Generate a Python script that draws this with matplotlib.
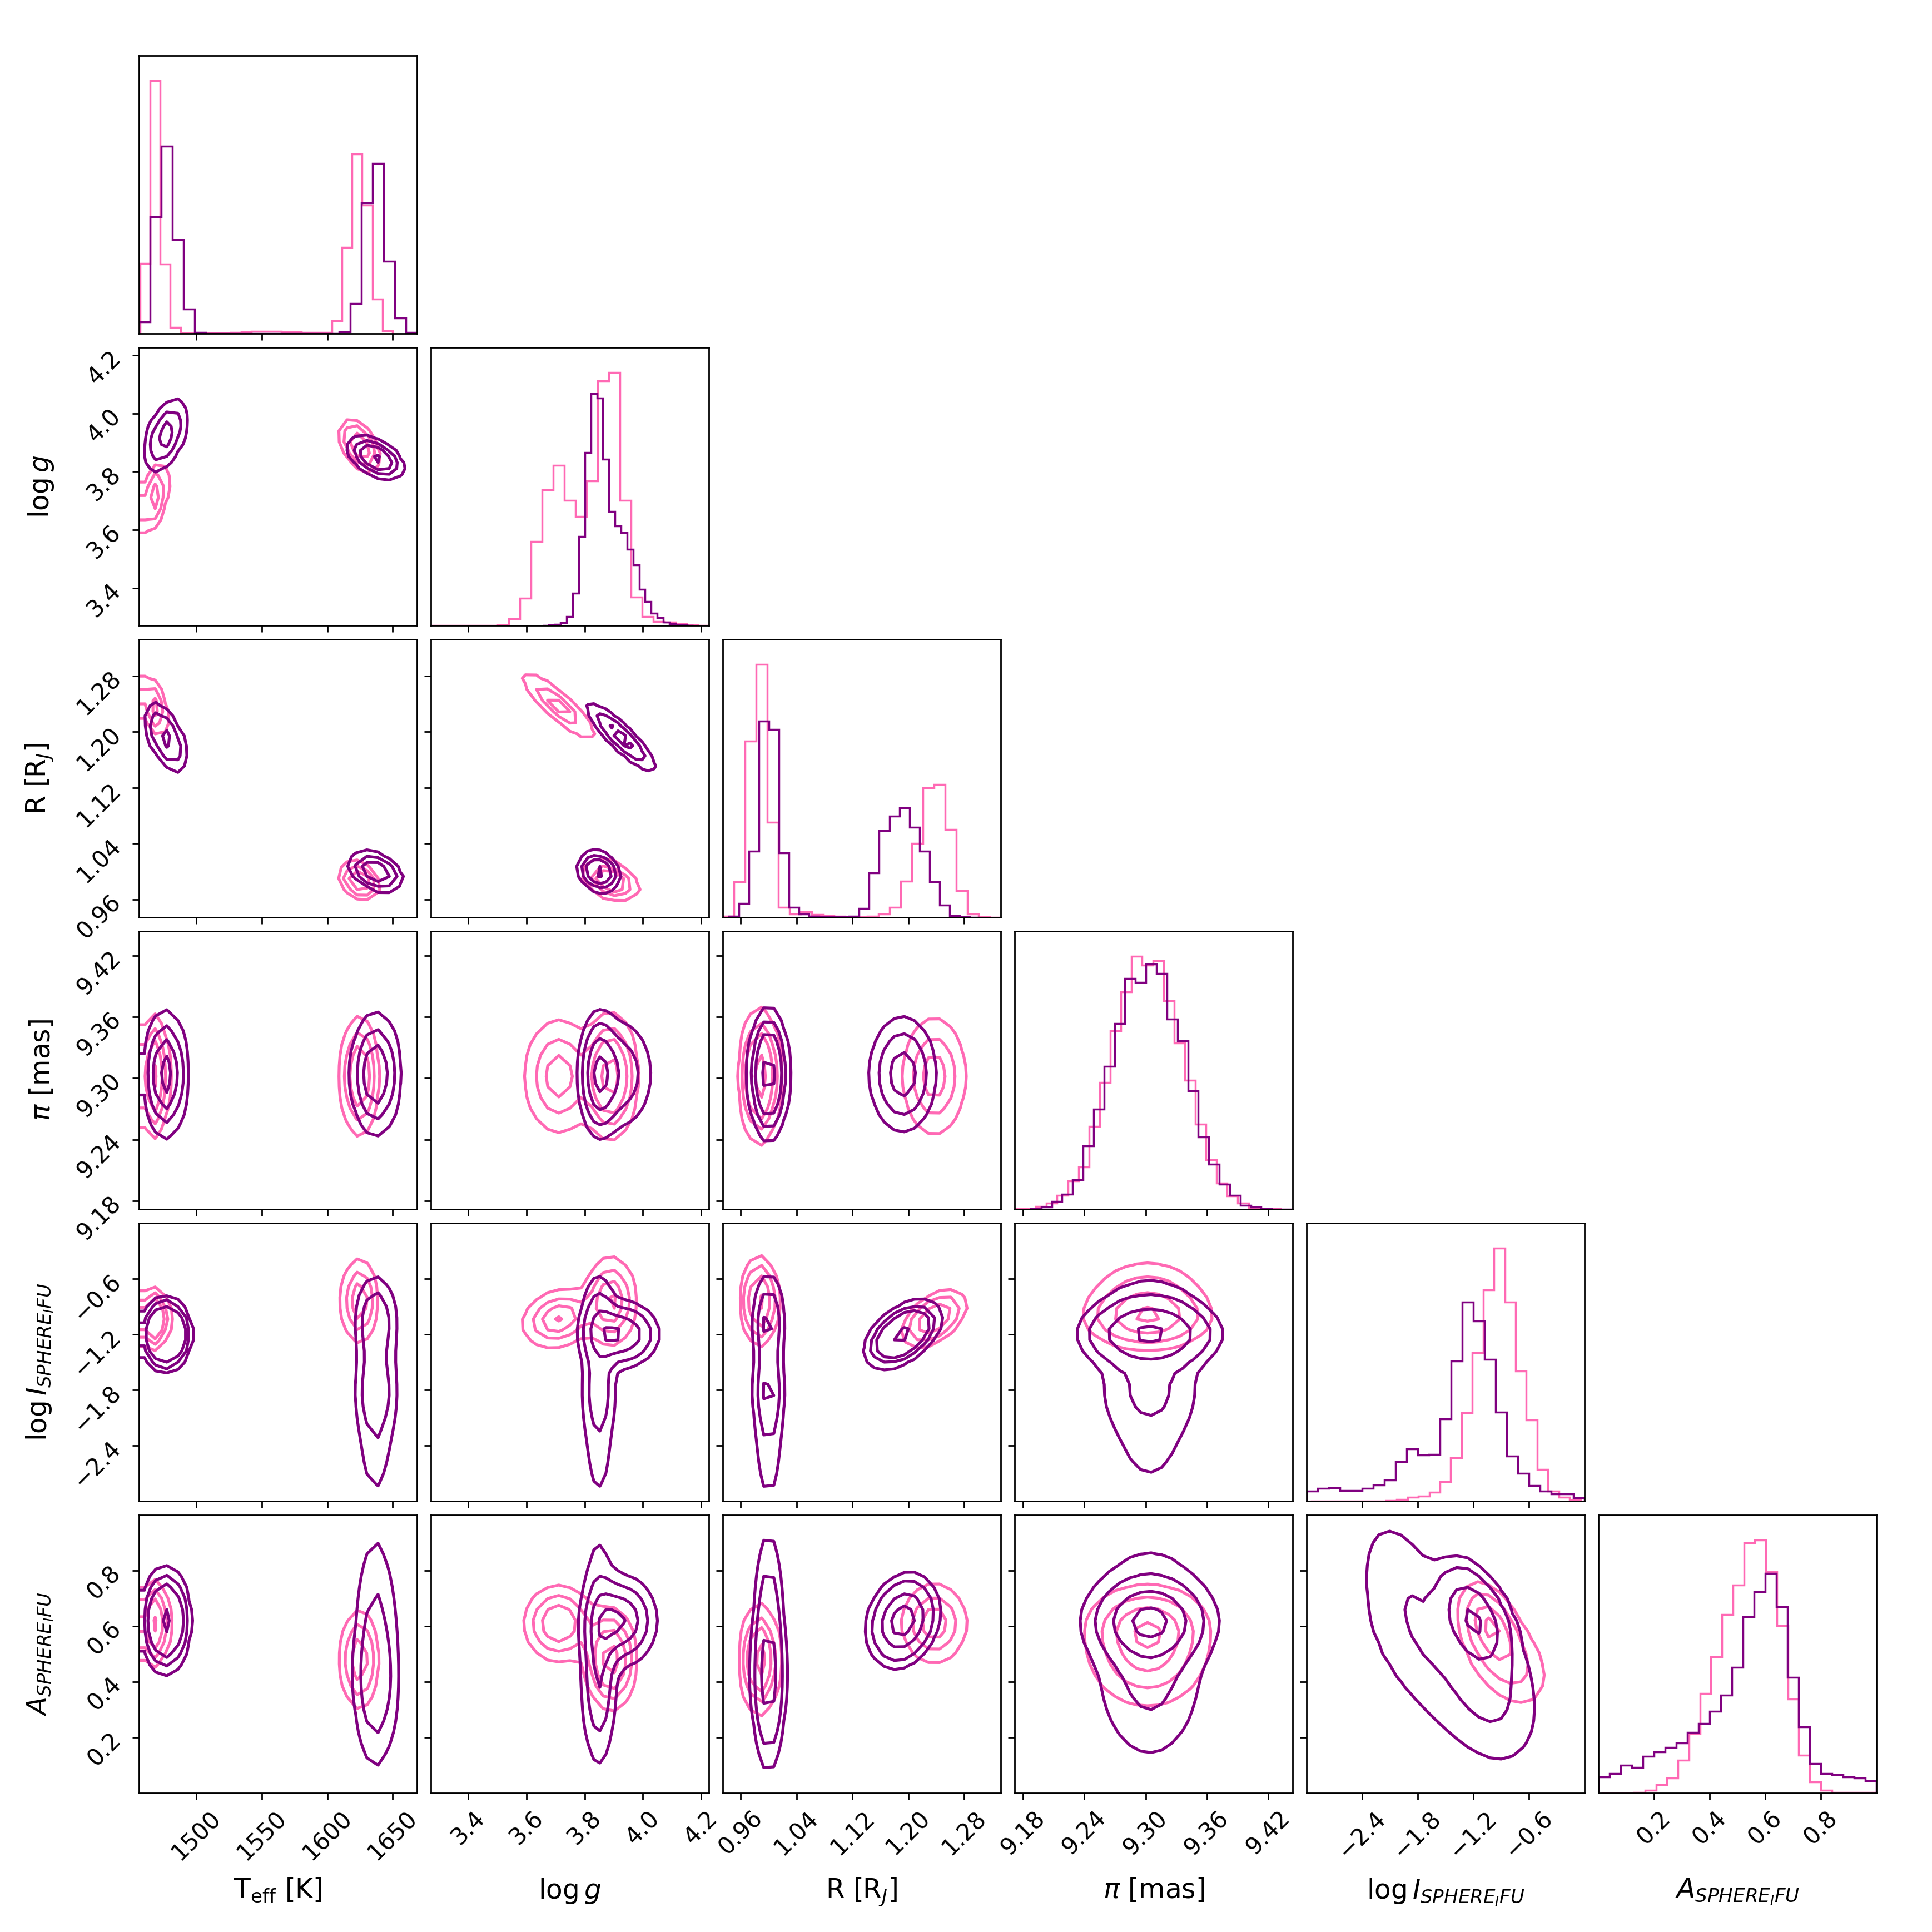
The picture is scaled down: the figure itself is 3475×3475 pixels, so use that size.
from __future__ import annotations

import numpy as np
import matplotlib

matplotlib.use("Agg")
import matplotlib.pyplot as plt


OUTPUT = "out.png"

PINK = "#ff69b4"
PURPLE = "#800080"

LABELS = [
    r"T$_{\mathrm{eff}}$ [K]",
    r"$\log g$",
    r"R [R$_J$]",
    r"$\pi$ [mas]",
    r"$\log I_{SPHERE_IFU}$",
    r"$A_{SPHERE_IFU}$",
]

AXIS_LO = [1456.2, 3.271, 0.9344, 9.1717, -3.0, 0.0]
AXIS_HI = [1668.5, 4.227, 1.3322, 9.444, 0.0, 1.0]

TICKS = [
    [1500, 1550, 1600, 1650],
    [3.4, 3.6, 3.8, 4.0, 4.2],
    [0.96, 1.04, 1.12, 1.20, 1.28],
    [9.18, 9.24, 9.30, 9.36, 9.42],
    [-2.4, -1.8, -1.2, -0.6],
    [0.2, 0.4, 0.6, 0.8],
]
TICK_TEXT = [
    ["1500", "1550", "1600", "1650"],
    ["3.4", "3.6", "3.8", "4.0", "4.2"],
    ["0.96", "1.04", "1.12", "1.20", "1.28"],
    ["9.18", "9.24", "9.30", "9.36", "9.42"],
    ["\u22122.4", "\u22121.8", "\u22121.2", "\u22120.6"],
    ["0.2", "0.4", "0.6", "0.8"],
]

# 1D marginals: 25 bins per sample set, each set over its own range
PINK_HIST_LO = [1457.0, 3.271, 0.9344, 9.1717, -2.96, 0.01]
PINK_HIST_HI = [1649.8, 4.227, 1.3322, 9.432, -0.044, 0.997]
PURPLE_HIST_LO = [1456.2, 3.655, 0.9428, 9.1874, -3.0, 0.0]
PURPLE_HIST_HI = [1668.5, 4.174, 1.302, 9.444, 0.0, 1.0]

PINK_TEFF = [0.252, 0.910, 0.250, 0.023, 0.003, 0.003, 0.003, 0.003, 0.003, 0.004,
             0.006, 0.009, 0.009, 0.009, 0.006, 0.006, 0.005, 0.004, 0.005, 0.046,
             0.311, 0.647, 0.463, 0.124, 0.011]
PINK_LOGG = [0.0, 0.0, 0.0, 0.0, 0.0, 0.0, 0.003, 0.025, 0.098, 0.303,
             0.490, 0.579, 0.452, 0.394, 0.523, 0.884, 0.913, 0.452, 0.102, 0.033,
             0.014, 0.013, 0.006, 0.003, 0.001]
PINK_RAD = [0.003, 0.127, 0.633, 0.909, 0.341, 0.036, 0.012, 0.019, 0.009, 0.006,
            0.003, 0.001, 0.001, 0.003, 0.012, 0.036, 0.130, 0.266, 0.465, 0.477,
            0.315, 0.095, 0.012, 0.001, 0.0]
PINK_PLX = [0.002, 0.002, 0.010, 0.022, 0.050, 0.102, 0.153, 0.298, 0.456, 0.643,
            0.784, 0.911, 0.879, 0.895, 0.751, 0.599, 0.464, 0.306, 0.178, 0.095,
            0.048, 0.022, 0.006, 0.002, 0.003]
PINK_LOGI = [0.001, 0.001, 0.001, 0.001, 0.001, 0.001, 0.001, 0.003, 0.006, 0.014,
             0.019, 0.033, 0.070, 0.157, 0.319, 0.536, 0.763, 0.912, 0.719, 0.469,
             0.293, 0.115, 0.036, 0.015, 0.005]
PINK_AMP = [0.001, 0.001, 0.001, 0.003, 0.010, 0.030, 0.054, 0.118, 0.214, 0.359,
            0.493, 0.645, 0.752, 0.903, 0.913, 0.800, 0.604, 0.339, 0.137, 0.041,
            0.010, 0.003, 0.003, 0.003, 0.003]

PURPLE_TEFF = [0.043, 0.421, 0.675, 0.338, 0.089, 0.004, 0.0, 0.0, 0.0, 0.0,
               0.0, 0.0, 0.0, 0.0, 0.0, 0.0, 0.0, 0.0, 0.007, 0.109,
               0.471, 0.613, 0.261, 0.057, 0.005]
PURPLE_LOGG = [0.001, 0.003, 0.004, 0.010, 0.033, 0.117, 0.321, 0.624, 0.838, 0.821,
               0.600, 0.411, 0.359, 0.335, 0.276, 0.218, 0.131, 0.087, 0.045, 0.028,
               0.013, 0.006, 0.003, 0.002, 0.001]
PURPLE_RAD = [0.003, 0.049, 0.237, 0.705, 0.676, 0.231, 0.035, 0.012, 0.003, 0.001,
              0.001, 0.001, 0.004, 0.032, 0.159, 0.312, 0.364, 0.393, 0.324, 0.237,
              0.127, 0.043, 0.006, 0.001, 0.0]
PURPLE_PLX = [0.002, 0.008, 0.029, 0.055, 0.107, 0.228, 0.361, 0.515, 0.670, 0.831,
              0.818, 0.883, 0.850, 0.686, 0.608, 0.426, 0.260, 0.162, 0.091, 0.050,
              0.015, 0.008, 0.002, 0.001, 0.001]
PURPLE_LOGI = [0.036, 0.046, 0.048, 0.038, 0.038, 0.046, 0.058, 0.077, 0.143, 0.189,
               0.167, 0.169, 0.296, 0.505, 0.719, 0.651, 0.511, 0.321, 0.163, 0.100,
               0.056, 0.036, 0.026, 0.026, 0.013]
PURPLE_AMP = [0.058, 0.070, 0.100, 0.092, 0.132, 0.149, 0.165, 0.180, 0.219, 0.252,
              0.296, 0.354, 0.454, 0.637, 0.728, 0.793, 0.672, 0.418, 0.240, 0.107,
              0.070, 0.067, 0.058, 0.055, 0.045]

PINK_HISTS = [PINK_TEFF, PINK_LOGG, PINK_RAD, PINK_PLX, PINK_LOGI, PINK_AMP]
PURPLE_HISTS = [PURPLE_TEFF, PURPLE_LOGG, PURPLE_RAD, PURPLE_PLX, PURPLE_LOGI, PURPLE_AMP]

# 2D posteriors: blobs (weight, centre, width, tilt)
# parameter order: Teff, logg, R, pi, logI, A
PINK_WEIGHTS = [0.47, 0.53]
PINK_MEANS = [
    [1467.5, 3.71, 1.237, 9.302, -1.03, 0.61],
    [1624.5, 3.89, 0.987, 9.302, -0.84, 0.48],
]
PINK_SIGMAS = [
    [5.5, 0.065, 0.024, 0.031, 0.16, 0.075],
    [7.5, 0.045, 0.013, 0.031, 0.25, 0.095],
]
PINK_CORR = [
    {(0, 1): 0.5, (0, 2): -0.5, (1, 2): -0.9, (2, 4): 0.5, (4, 5): -0.4, (1, 4): 0.2},
    {(0, 1): -0.5, (0, 2): -0.3, (1, 2): -0.4, (4, 5): -0.4},
]

PURPLE_WEIGHTS = [0.5, 0.2, 0.17, 0.13]
PURPLE_MEANS = [
    [1476.5, 3.925, 1.192, 9.304, -1.20, 0.62],
    [1637.0, 3.848, 1.000, 9.304, -1.05, 0.38],
    [1637.0, 3.848, 1.000, 9.304, -1.80, 0.62],
    [1637.0, 3.848, 1.000, 9.304, -2.45, 0.45],
]
PURPLE_SIGMAS = [
    [8.0, 0.065, 0.026, 0.031, 0.17, 0.085],
    [9.5, 0.035, 0.013, 0.031, 0.30, 0.15],
    [9.5, 0.035, 0.013, 0.031, 0.30, 0.20],
    [9.5, 0.035, 0.013, 0.031, 0.45, 0.35],
]
PURPLE_CORR = [
    {(0, 1): 0.5, (0, 2): -0.6, (1, 2): -0.9, (2, 4): 0.5, (4, 5): -0.4, (2, 5): 0.2},
    {(0, 1): -0.5, (0, 2): -0.4, (1, 2): -0.2, (4, 5): -0.3},
    {(0, 1): -0.5, (0, 2): -0.4, (1, 2): -0.2, (4, 5): -0.6},
    {(0, 1): -0.5, (0, 2): -0.4, (1, 2): -0.2, (4, 5): -0.3},
]

LEVELS = 1.0 - np.exp(-0.5 * np.arange(0.5, 2.1, 0.5) ** 2)
N_BINS = 25
SUB = 5


def blob_density(x, y, i, j, weights, means, sigmas, corr):
    total = np.zeros_like(x)
    for w, mu, sg, rho_map in zip(weights, means, sigmas, corr):
        rho = rho_map.get((i, j), 0.0)
        dx = (x - mu[i]) / sg[i]
        dy = (y - mu[j]) / sg[j]
        q = (dx * dx - 2 * rho * dx * dy + dy * dy) / (1 - rho**2)
        total += w * np.exp(-0.5 * q) / (2 * np.pi * sg[i] * sg[j] * np.sqrt(1 - rho**2))
    return total


def binned_density(i, j, lo, hi, model):
    # density averaged over a 25x25 grid of bins, like a 2D histogram
    n = N_BINS * SUB
    xf = lo[i] + (np.arange(n) + 0.5) * (hi[i] - lo[i]) / n
    yf = lo[j] + (np.arange(n) + 0.5) * (hi[j] - lo[j]) / n
    X, Y = np.meshgrid(xf, yf, indexing="ij")
    D = blob_density(X, Y, i, j, *model)
    H = D.reshape(N_BINS, SUB, N_BINS, SUB).mean(axis=(1, 3))
    xc = lo[i] + (np.arange(N_BINS) + 0.5) * (hi[i] - lo[i]) / N_BINS
    yc = lo[j] + (np.arange(N_BINS) + 0.5) * (hi[j] - lo[j]) / N_BINS
    return xc, yc, H


def contour_levels(H):
    Hflat = np.sort(H.flatten())[::-1]
    sm = np.cumsum(Hflat)
    sm /= sm[-1]
    V = np.empty(len(LEVELS))
    for k, v0 in enumerate(LEVELS):
        sel = Hflat[sm <= v0]
        V[k] = sel[-1] if len(sel) else Hflat[0]
    V.sort()
    m = np.diff(V) == 0
    while np.any(m):
        V[np.where(m)[0][0]] *= 1.0 - 1e-4
        m = np.diff(V) == 0
    V.sort()
    return V


def pad_grid(xc, yc, H):
    H2 = H.min() + np.zeros((H.shape[0] + 4, H.shape[1] + 4))
    H2[2:-2, 2:-2] = H
    H2[2:-2, 1] = H[:, 0]
    H2[2:-2, -2] = H[:, -1]
    H2[1, 2:-2] = H[0]
    H2[-2, 2:-2] = H[-1]
    H2[1, 1] = H[0, 0]
    H2[1, -2] = H[0, -1]
    H2[-2, 1] = H[-1, 0]
    H2[-2, -2] = H[-1, -1]
    dx = xc[1] - xc[0]
    dy = yc[1] - yc[0]
    X2 = np.concatenate([xc[0] + np.array([-2, -1]) * dx, xc, xc[-1] + np.array([1, 2]) * dx])
    Y2 = np.concatenate([yc[0] + np.array([-2, -1]) * dy, yc, yc[-1] + np.array([1, 2]) * dy])
    return X2, Y2, H2


def draw_contours(ax, i, j, lo, hi, model, color):
    xc, yc, H = binned_density(i, j, lo, hi, model)
    V = contour_levels(H)
    X2, Y2, H2 = pad_grid(xc, yc, H)
    ax.contour(X2, Y2, H2.T, V, colors=color, linewidths=1.5)


def draw_hist(ax, counts, lo, hi, color):
    edges = np.linspace(lo, hi, len(counts) + 1)
    ax.stairs(counts, edges, color=color, linewidth=1.0, baseline=0)


def plot_corner() -> None:
    plt.rcParams.update({"font.size": 12, "axes.linewidth": 0.8})
    K = 6
    factor = 2.0
    lbdim = 0.5 * factor
    trdim = 0.2 * factor
    whspace = 0.05
    plotdim = factor * K + factor * (K - 1.0) * whspace
    dim = lbdim + plotdim + trdim

    fig, axes = plt.subplots(K, K, figsize=(dim, dim))
    fig.subplots_adjust(left=lbdim / dim, bottom=lbdim / dim, right=(lbdim + plotdim) / dim,
                        top=(lbdim + plotdim) / dim, wspace=whspace, hspace=whspace)

    pink_model = (PINK_WEIGHTS, PINK_MEANS, PINK_SIGMAS, PINK_CORR)
    purple_model = (PURPLE_WEIGHTS, PURPLE_MEANS, PURPLE_SIGMAS, PURPLE_CORR)

    for row in range(K):
        for col in range(K):
            ax = axes[row, col]
            if col > row:
                ax.set_frame_on(False)
                ax.set_xticks([])
                ax.set_yticks([])
                continue

            if col == row:
                draw_hist(ax, PINK_HISTS[col], PINK_HIST_LO[col], PINK_HIST_HI[col], PINK)
                draw_hist(ax, PURPLE_HISTS[col], PURPLE_HIST_LO[col], PURPLE_HIST_HI[col], PURPLE)
                top = 1.1 * max(max(PINK_HISTS[col]), max(PURPLE_HISTS[col]))
                ax.set_ylim(0, top)
                ax.set_yticks([])
            else:
                draw_contours(ax, col, row, PINK_HIST_LO, PINK_HIST_HI, pink_model, PINK)
                draw_contours(ax, col, row, PURPLE_HIST_LO, PURPLE_HIST_HI, purple_model, PURPLE)
                ax.set_ylim(AXIS_LO[row], AXIS_HI[row])
                ax.set_yticks(TICKS[row])
                if col == 0:
                    ax.set_yticklabels(TICK_TEXT[row], rotation=45)
                    ax.set_ylabel(LABELS[row], fontsize=14)
                    ax.yaxis.set_label_coords(-0.3, 0.5)
                else:
                    ax.set_yticklabels([])

            ax.set_xlim(AXIS_LO[col], AXIS_HI[col])
            ax.set_xticks(TICKS[col])
            if row == K - 1:
                ax.set_xticklabels(TICK_TEXT[col], rotation=45)
                ax.set_xlabel(LABELS[col], fontsize=14)
                ax.xaxis.set_label_coords(0.5, -0.3)
            else:
                ax.set_xticklabels([])
            ax.tick_params(labelsize=12)

    fig.savefig(OUTPUT, dpi=250, facecolor="white")
    plt.close(fig)


def main() -> None:
    plot_corner()


if __name__ == "__main__":
    main()
